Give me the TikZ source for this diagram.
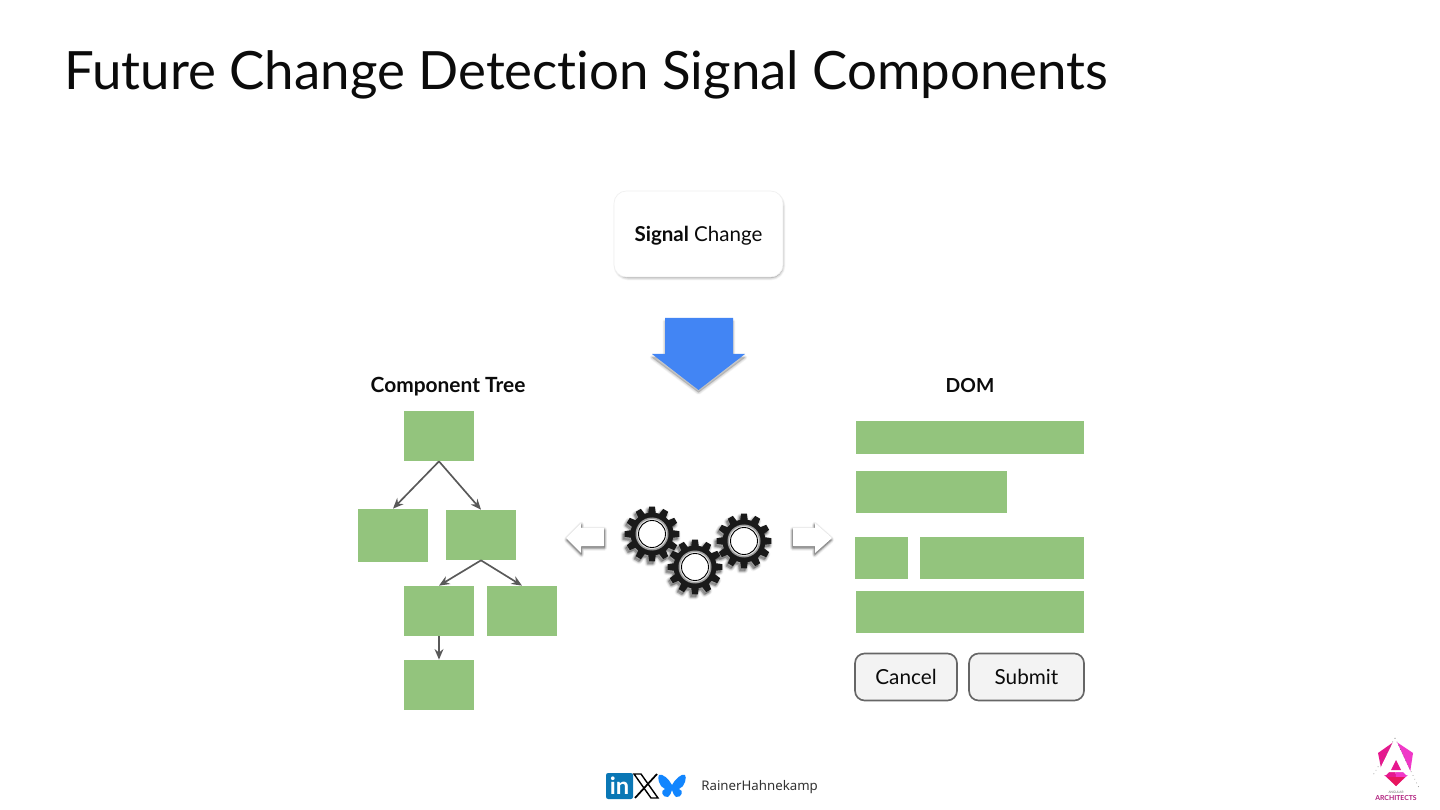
\documentclass[tikz,border=0pt]{standalone}
\usepackage{fontspec}
\setmainfont{Lato}[Ligatures=NoCommon]
\newfontfamily\footfont{Noto Sans}
\usetikzlibrary{arrows.meta}
\definecolor{Ink}{HTML}{0B0B0B}
\definecolor{BoxGreen}{HTML}{93C47D}
\definecolor{EdgeGray}{HTML}{595959}
\definecolor{ArrowBlue}{HTML}{4285F4}
\definecolor{ButtonFill}{HTML}{F3F3F3}
\definecolor{ButtonEdge}{HTML}{666666}
\definecolor{GearBlack}{HTML}{1A1A1A}
\definecolor{InBlue}{HTML}{0A77B5}
\definecolor{SkyBlue}{HTML}{1185FE}
\definecolor{LogoPink}{HTML}{E6188F}
\definecolor{LogoViolet}{HTML}{F038C8}
\definecolor{LogoRed}{HTML}{E8175D}
\definecolor{LogoText}{HTML}{B0207E}
\tikzset{
  treebox/.style={fill=BoxGreen,inner sep=0pt,minimum width=1.4cm,minimum height=1cm},
  dombox/.style={fill=BoxGreen,inner sep=0pt},
  edge/.style={-{Stealth[length=6pt,width=5pt]},EdgeGray,line width=0.95pt},
  heading/.style={anchor=base,font=\fontsize{11.9}{13}\selectfont\bfseries,text=Ink},
  button/.style={fill=ButtonFill,draw=ButtonEdge,line width=0.95pt,rounded corners=5.5pt,inner sep=0pt,minimum height=0.94cm,font=\fontsize{11.8}{14}\selectfont,text=Ink}
}
% blurred copy of a path: offset in pixels, then the path
\newcommand{\softshadow}[3]{
  \begin{scope}[shift={(#1,#2)}]
    \foreach \blurwidth in {0.3,0.9,1.5,2.1,2.7}
      \path[fill=black,draw=black,line width=\blurwidth pt,line join=round,opacity=0.035] #3;
  \end{scope}
}
\newcommand{\gearoutline}{(-15:21.5) \foreach \toothangle in {0,30,...,330} { -- (\toothangle-10:21.5) -- (\toothangle-6:27.5) -- (\toothangle+6:27.5) -- (\toothangle+10:21.5) } -- cycle}
% one gear: centre in pixels
\newcommand{\gearshape}[2]{
  \begin{scope}[shift={(#1,#2)}]
    \softshadow{-2}{3}{\gearoutline}
    \softshadow{-1}{2}{\gearoutline}
    \fill[GearBlack] \gearoutline;
    \fill[black!38] (0,0) circle (16.5);
    \fill[black!12] (0,0) circle (15);
    \fill[white] (0,0) circle (14);
    \draw[black,line width=0.5pt] (0,0) circle (13.5);
  \end{scope}
}
\begin{document}
\begin{tikzpicture}[x=0.02cm,y=-0.02cm,>=stealth]
\useasboundingbox (0,0) rectangle (1440,810);
\fill[white] (0,0) rectangle (1440,810);
\node[anchor=west,inner sep=0pt,font=\fontsize{30.05}{34}\selectfont,text=Ink] (title) at (64,75) {Future Change Detection Signal Components};
% signal card and big arrow
\softshadow{1}{2}{[rounded corners=7pt] (615,192) rectangle (782,276)}
\node[draw=black!6,fill=white,rounded corners=7pt,inner sep=0pt,minimum width=3.38cm,minimum height=1.72cm,text height=10pt,text depth=2pt,font=\fontsize{11.7}{14}\selectfont,text=Ink] (signal) at (698.5,234) {\textbf{Signal} Change};
\softshadow{0}{3.5}{(665,318) -- (733,318) -- (733,354) -- (745,354) -- (698.5,389) -- (652,354) -- (665,354) -- cycle}
\fill[ArrowBlue] (665,318) -- (733,318) -- (733,354) -- (745,354) -- (698.5,390) -- (652,354) -- (665,354) -- cycle;
% tree
\node[heading] (treetitle) at (448,393) {Component Tree};
\node[treebox] (root) at (439,436) {};
\node[treebox,minimum height=1.06cm] (left) at (393,535.5) {};
\node[treebox] (right) at (481,535) {};
\node[treebox] (inner) at (439,611) {};
\node[treebox] (outer) at (522,611) {};
\node[treebox] (leaf) at (439,685) {};
\draw[edge] (root.south) -- (left.north);
\draw[edge] (root.south) -- (right.north);
\draw[edge] (right.south) -- (inner.north);
\draw[edge] (right.south) -- (outer.north);
\draw[edge] (inner.south) -- (leaf.north);
% gears and white arrows
\softshadow{0.5}{1}{(566,538) -- (581,523) -- (581,528) -- (604,528) -- (604,546) -- (581,546) -- (581,553) -- cycle}
\softshadow{0.5}{2.5}{(566,538) -- (581,523) -- (581,528) -- (604,528) -- (604,546) -- (581,546) -- (581,553) -- cycle}
\fill[white] (566,538) -- (581,523) -- (581,528) -- (604,528) -- (604,546) -- (581,546) -- (581,553) -- cycle;
\softshadow{-0.5}{1}{(832,538) -- (815,523) -- (815,528) -- (793,528) -- (793,546) -- (815,546) -- (815,553) -- cycle}
\softshadow{-0.5}{2.5}{(832,538) -- (815,523) -- (815,528) -- (793,528) -- (793,546) -- (815,546) -- (815,553) -- cycle}
\fill[white] (832,538) -- (815,523) -- (815,528) -- (793,528) -- (793,546) -- (815,546) -- (815,553) -- cycle;
\gearshape{652}{534}
\gearshape{744}{541}
\gearshape{695}{567}
% dom
\node[heading,font=\fontsize{11}{13}\selectfont\bfseries] (domtitle) at (970,393) {DOM};
\node[dombox,minimum width=4.56cm,minimum height=0.66cm] (bar) at (970,437.5) {};
\node[dombox,minimum width=3.02cm,minimum height=0.84cm] (shortbar) at (931.5,492) {};
\node[dombox,minimum width=1.06cm,minimum height=0.84cm] (label) at (881.5,558) {};
\node[dombox,minimum width=3.28cm,minimum height=0.84cm] (field) at (1002,558) {};
\node[dombox,minimum width=4.56cm,minimum height=0.86cm] (wide) at (970,612) {};
\node[button,minimum width=2.04cm] (cancel) at (906,677) {Cancel};
\node[button,minimum width=2.3cm] (submit) at (1026.5,677) {Submit};
% footer
\fill[InBlue,rounded corners=1.2pt] (606,773) rectangle (633,799);
\node[inner sep=0pt,font=\fontsize{13.5}{14}\selectfont\bfseries,text=white] (linkedin) at (619.5,785.5) {in};
\draw[black,line width=0.8pt] (634,774) -- (641,774) -- (658,798) -- (651,798) -- cycle;
\draw[black,line width=1pt] (657,774) -- (635,798);
\fill[SkyBlue] (672,785) .. controls (669,779) and (662,773) .. (659,775) .. controls (657,777) and (659,787) .. (665,789) .. controls (660,790) and (662,798) .. (668,797) .. controls (670,796) and (671,793) .. (672,790) .. controls (673,793) and (674,796) .. (676,797) .. controls (682,798) and (684,790) .. (679,789) .. controls (685,787) and (687,777) .. (685,775) .. controls (682,773) and (675,779) .. (672,785) -- cycle;
\node[anchor=west,inner sep=0pt,font=\footfont\fontsize{7.55}{9}\selectfont,text=black!80] (author) at (701,787) {RainerHahnekamp};
% logo
\fill[LogoPink] (1395,741) -- (1378,753) -- (1382,773) -- (1396,786) -- cycle;
\fill[LogoViolet] (1395,741) -- (1413,753) -- (1410,773) -- (1396,786) -- cycle;
\fill[white] (1395,738) -- (1377,775) -- (1386,775) -- (1389,772) -- (1403,772) -- (1406,775) -- (1412,775) -- cycle;
\fill[LogoPink] (1396,760) -- (1391,770) -- (1401,770) -- cycle;
\fill[LogoRed] (1387,777) -- (1405,777) -- (1396,786) -- cycle;
\draw[black!55,line width=0.35pt,dotted] (1395,738) -- (1372,777);
\draw[black!55,line width=0.35pt,dotted] (1395,738) -- (1420,790);
\node[inner sep=0pt,font=\fontsize{1.8}{2}\selectfont,text=black!60] (angular) at (1396,792) {ANGULAR};
\node[inner sep=0pt,font=\fontsize{3.9}{4}\selectfont\bfseries,text=LogoText] (architects) at (1396,798) {ARCHITECTS};
\end{tikzpicture}
\end{document}
